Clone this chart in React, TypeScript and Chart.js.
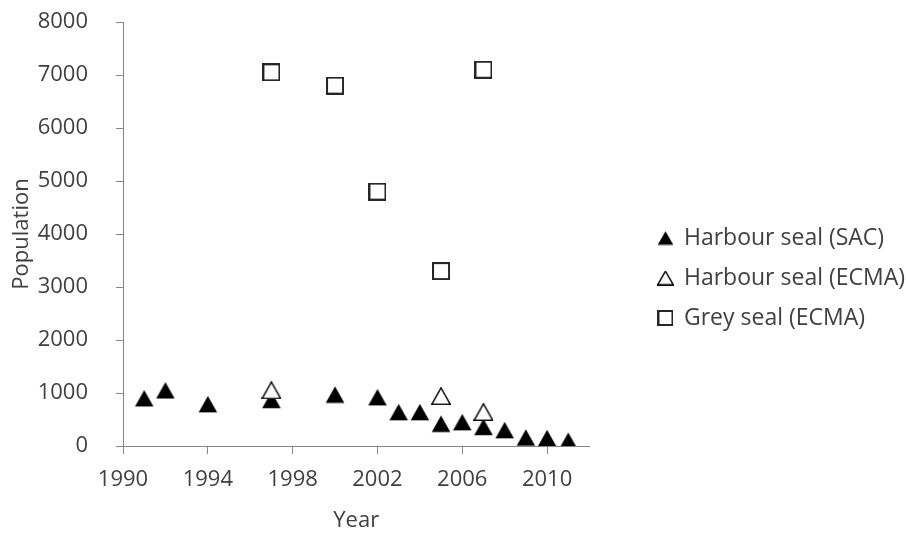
import React, { useEffect, useRef } from "react";
import { Chart, registerables } from "chart.js";

Chart.register(...registerables);

const sacYears = [1991, 1992, 1994, 1997, 2000, 2002, 2003, 2004, 2005, 2006, 2007, 2008, 2009, 2010, 2011];
const sacValues = [900, 1050, 790, 870, 970, 920, 640, 640, 420, 450, 360, 300, 160, 150, 100];

const ecmaHarbourYears = [1997, 2005, 2007];
const ecmaHarbourValues = [1050, 940, 640];

const greyYears = [1997, 2000, 2002, 2005, 2007];
const greyValues = [7050, 6800, 4800, 3300, 7100];

const xTickValues = [1990, 1994, 1998, 2002, 2006, 2010];

const seriesLabels = ["Harbour seal (SAC)", "Harbour seal (ECMA)", "Grey seal (ECMA)"];

const FONT = "'Open Sans', sans-serif";
const TEXT = "#404040";
const AXIS = "#868686";

function triangleImg(w: number, h: number, filled: boolean): HTMLCanvasElement {
  const c = document.createElement("canvas");
  c.width = w;
  c.height = h;
  const ctx = c.getContext("2d")!;
  ctx.beginPath();
  ctx.moveTo(w / 2, 0.75);
  ctx.lineTo(w - 0.75, h - 0.75);
  ctx.lineTo(0.75, h - 0.75);
  ctx.closePath();
  if (filled) {
    ctx.fillStyle = "#000000";
    ctx.fill();
  } else {
    ctx.fillStyle = "#ffffff";
    ctx.fill();
    ctx.lineWidth = 1.5;
    ctx.strokeStyle = "#000000";
    ctx.stroke();
  }
  return c;
}

function squareImg(s: number): HTMLCanvasElement {
  const c = document.createElement("canvas");
  c.width = s;
  c.height = s;
  const ctx = c.getContext("2d")!;
  ctx.fillStyle = "#ffffff";
  ctx.fillRect(1, 1, s - 2, s - 2);
  ctx.lineWidth = 2;
  ctx.strokeStyle = "#262626";
  ctx.strokeRect(1, 1, s - 2, s - 2);
  return c;
}

function toPoints(xs: number[], ys: number[]) {
  return xs.map((x, i) => ({ x, y: ys[i] }));
}

export default function App() {
  const ref = useRef<HTMLCanvasElement | null>(null);

  useEffect(() => {
    document.body.style.margin = "0";
    const canvas = ref.current!;
    const pointImgs = [triangleImg(20, 18, true), triangleImg(20, 18, false), squareImg(18)];
    const legendImgs = [triangleImg(17, 15, true), triangleImg(17, 15, false), squareImg(16)];

    const chart = new Chart(canvas, {
      type: "scatter",
      data: {
        datasets: [
          {
            label: seriesLabels[0],
            data: toPoints(sacYears, sacValues),
            pointStyle: pointImgs[0],
            pointRadius: 10,
            order: 1,
          },
          {
            label: seriesLabels[1],
            data: toPoints(ecmaHarbourYears, ecmaHarbourValues),
            pointStyle: pointImgs[1],
            pointRadius: 10,
            order: 0,
          },
          {
            label: seriesLabels[2],
            data: toPoints(greyYears, greyValues),
            pointStyle: pointImgs[2],
            pointRadius: 9,
            order: 2,
          },
        ],
      },
      options: {
        animation: false,
        responsive: false,
        devicePixelRatio: 1,
        layout: { autoPadding: false, padding: { top: 22, bottom: 0, left: 0, right: -9 } },
        plugins: {
          tooltip: { enabled: false },
          legend: {
            position: "right",
            maxWidth: 400,
            labels: {
              usePointStyle: true,
              boxWidth: 14,
              boxHeight: 14,
              padding: 17,
              color: TEXT,
              font: { family: FONT, size: 23 },
              sort: (a: any, b: any) => a.datasetIndex - b.datasetIndex,
              generateLabels: (ch: any) => {
                const items = Chart.defaults.plugins.legend.labels.generateLabels(ch);
                return items.map((it: any) => ({ ...it, pointStyle: legendImgs[it.datasetIndex] }));
              },
            },
          },
        },
        scales: {
          x: {
            type: "linear",
            min: 1990,
            max: 2012,
            afterFit: (s: any) => {
              s.height = 88;
              s.paddingLeft = 0;
              s.paddingRight = 0;
            },
            afterBuildTicks: (s: any) => {
              s.ticks = xTickValues.map((v) => ({ value: v }));
            },
            ticks: {
              padding: 13,
              color: TEXT,
              font: { family: FONT, size: 22 },
              callback: (v: any) => String(v),
              maxRotation: 0,
              autoSkip: false,
            },
            grid: { drawOnChartArea: false, drawTicks: true, tickLength: 8, color: AXIS },
            border: { display: true, color: AXIS, width: 1 },
            title: {
              display: true,
              text: "Year",
              color: TEXT,
              font: { family: FONT, size: 22 },
              padding: { top: 0, bottom: 0 },
            },
          },
          y: {
            type: "linear",
            min: 0,
            max: 8000,
            afterFit: (s: any) => {
              s.width = 123;
              s.paddingTop = 0;
              s.paddingBottom = 0;
            },
            ticks: {
              stepSize: 1000,
              padding: 28,
              color: TEXT,
              font: { family: FONT, size: 22 },
              callback: (v: any) => String(v),
            },
            grid: { drawOnChartArea: false, drawTicks: true, tickLength: 7, color: AXIS },
            border: { display: true, color: AXIS, width: 1 },
            title: {
              display: true,
              text: "Population",
              color: TEXT,
              font: { family: FONT, size: 22 },
              padding: { top: 9, bottom: 0 },
            },
          },
          spacer: {
            type: "linear",
            position: "right",
            display: true,
            afterFit: (s: any) => {
              s.width = 52;
              s.paddingTop = 0;
              s.paddingBottom = 0;
            },
            ticks: { display: false },
            grid: { display: false, drawTicks: false },
            border: { display: false },
          },
        },
      },
    } as any);

    return () => chart.destroy();
  }, []);

  return (
    <div style={{ width: 906, height: 534 }}>
      <canvas ref={ref} width={906} height={534} style={{ display: "block" }} />
    </div>
  );
}
